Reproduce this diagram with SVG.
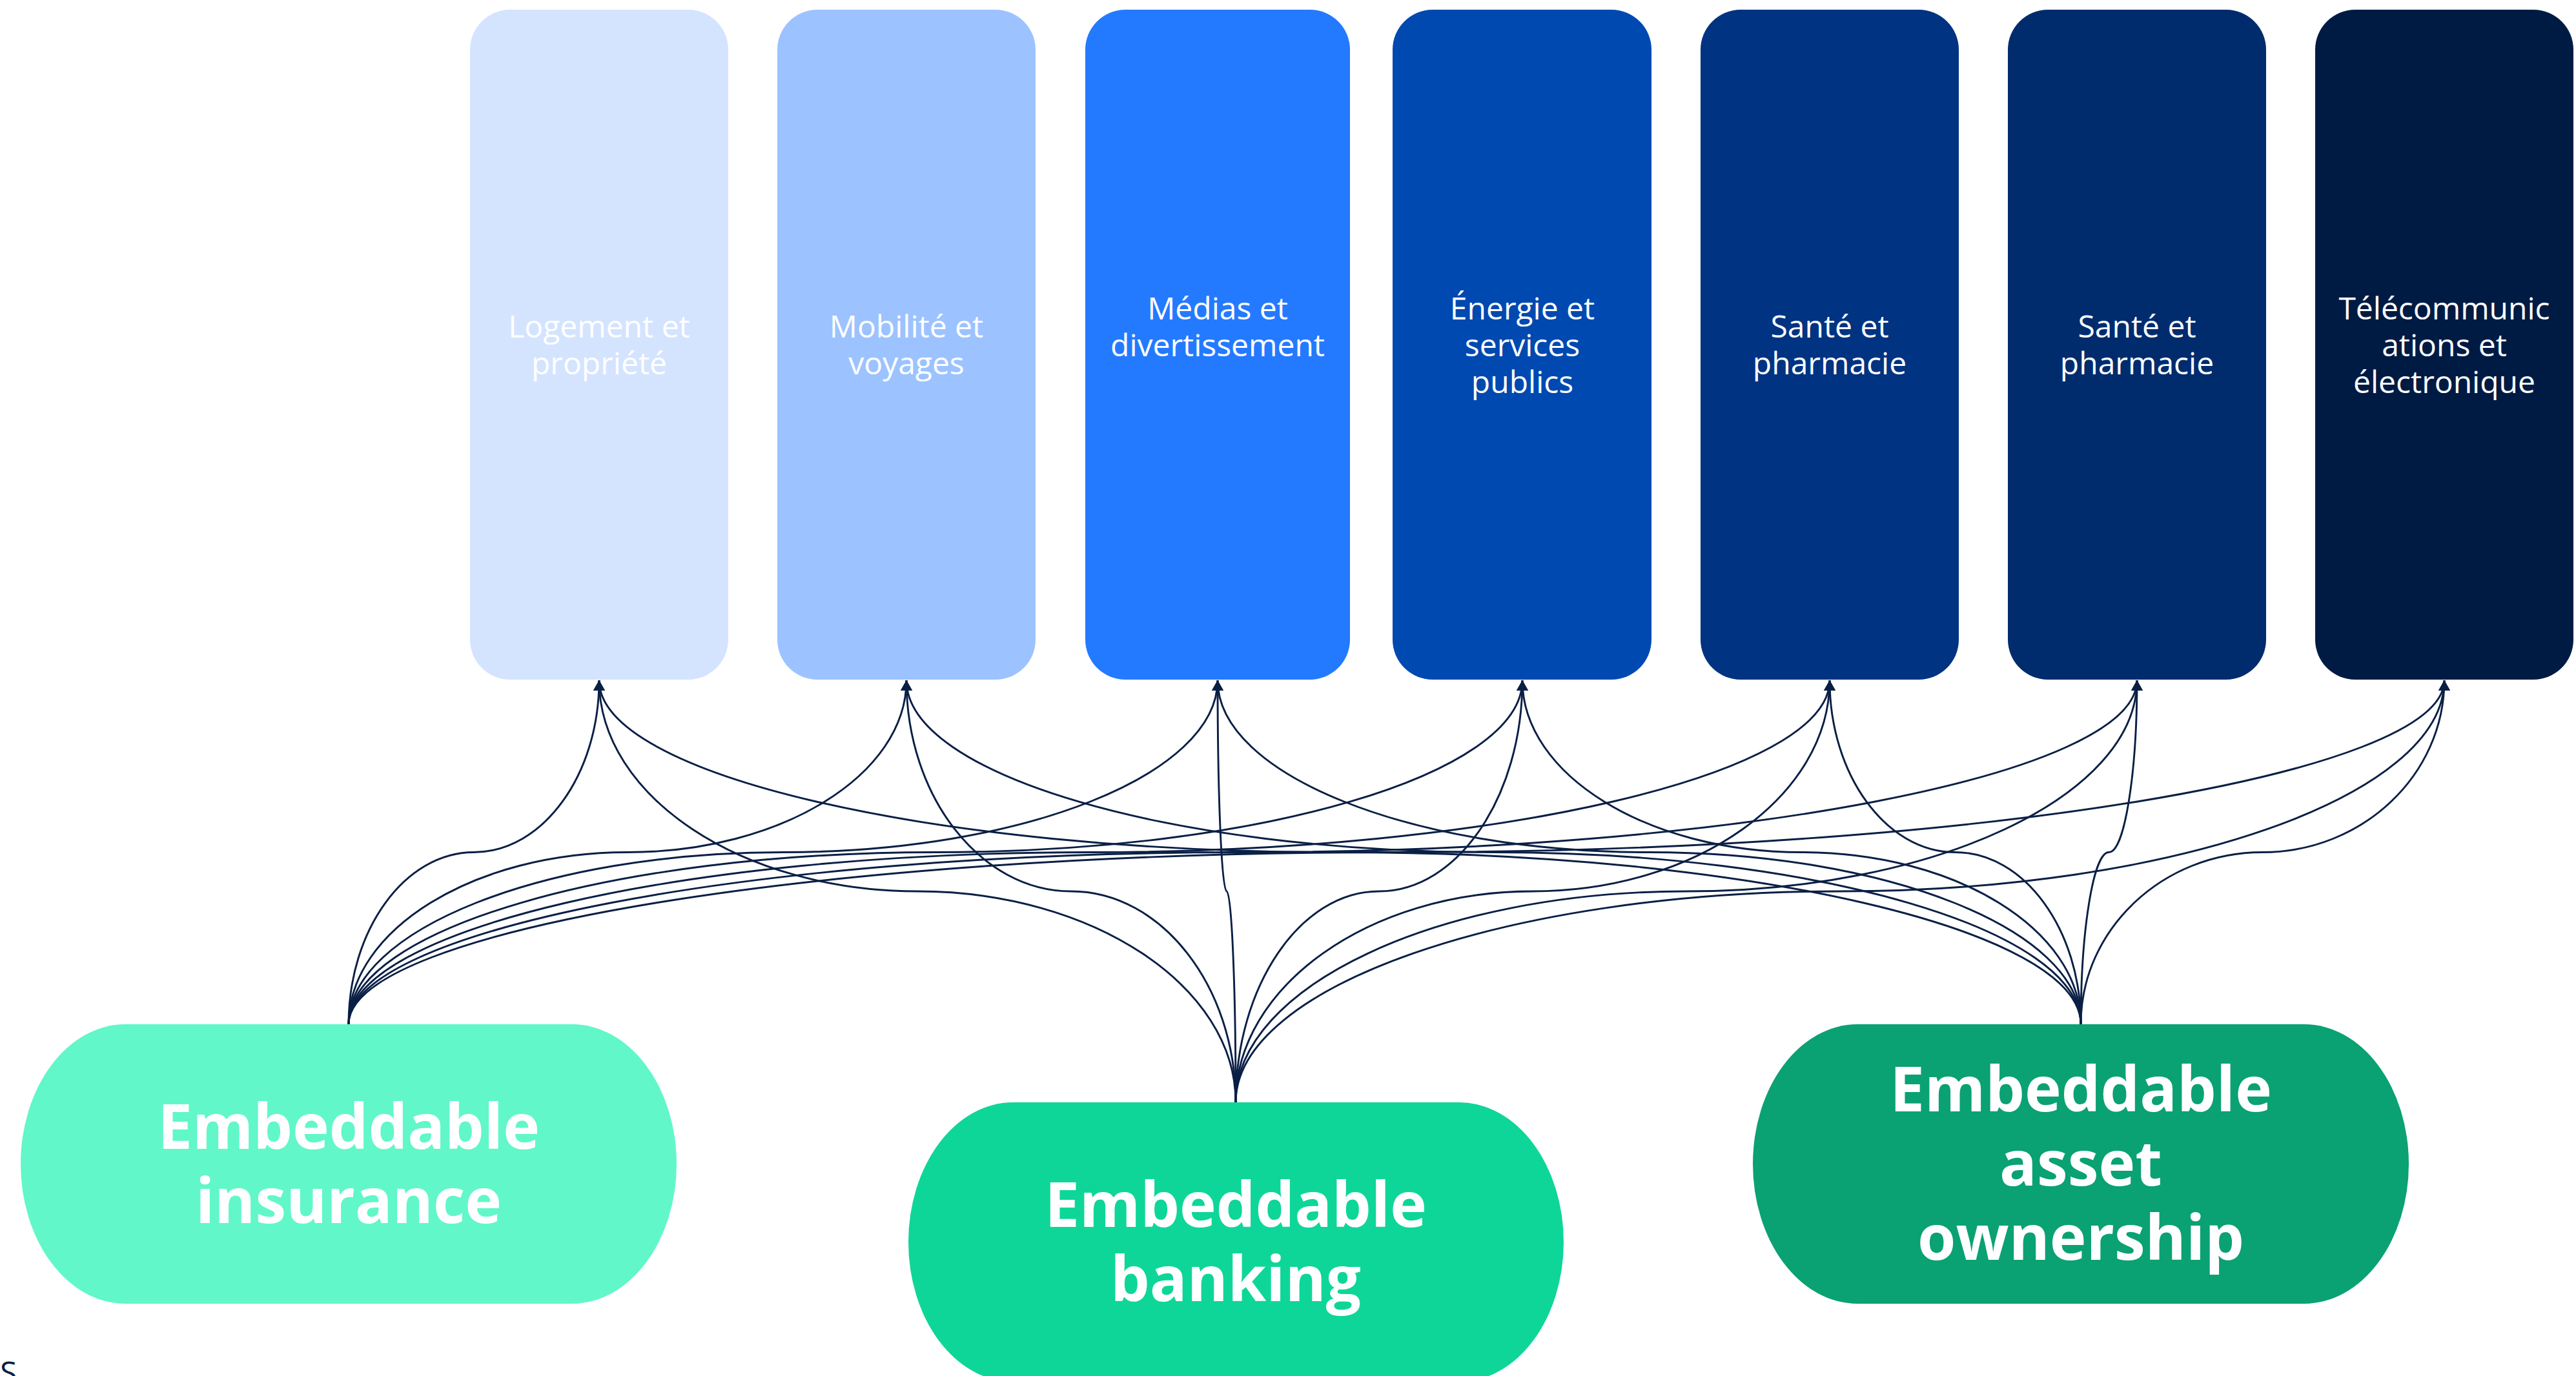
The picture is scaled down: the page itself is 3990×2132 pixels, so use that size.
<svg xmlns="http://www.w3.org/2000/svg" width="3990" height="2132" viewBox="0 0 3990 2132">
<style>
.sector{font-family:"Open Sans","Noto Sans","Liberation Sans",sans-serif;font-size:48px;fill:#ffffff;text-anchor:middle}
.prod{font-family:"Open Sans","Noto Sans","Liberation Sans",sans-serif;font-size:96px;font-weight:700;fill:#ffffff;text-anchor:middle}
.edge{fill:none;stroke:#0a1f45;stroke-width:2.9;marker-end:url(#arr)}
.foot{font-family:"Open Sans","Noto Sans","Liberation Sans",sans-serif;font-size:48px;fill:#0a1f45}
</style>
<defs>
<marker id="arr" viewBox="0 0 16 18" refX="16" refY="9" markerWidth="16" markerHeight="18" markerUnits="userSpaceOnUse" orient="auto">
<path d="M0,0L16,9L0,18z" fill="#0a1f45"/>
</marker>
</defs>
<rect width="3990" height="2132" fill="#ffffff"/>

<g id="sector-logement">
<rect x="728" y="15" width="400" height="1038" rx="62" ry="62" fill="#d4e4ff"/>
<text class="sector" x="928" y="523">Logement et<tspan x="928" dy="57">propriété</tspan></text>
</g>
<g id="sector-mobilite">
<rect x="1204" y="15" width="400" height="1038" rx="62" ry="62" fill="#9cc3ff"/>
<text class="sector" x="1404" y="523">Mobilité et<tspan x="1404" dy="57">voyages</tspan></text>
</g>
<g id="sector-medias">
<rect x="1681" y="15" width="410" height="1038" rx="62" ry="62" fill="#247aff"/>
<text class="sector" x="1886" y="495">Médias et<tspan x="1886" dy="57">divertissement</tspan></text>
</g>
<g id="sector-energie">
<rect x="2157" y="15" width="401" height="1038" rx="62" ry="62" fill="#0049b0"/>
<text class="sector" x="2358" y="495">Énergie et<tspan x="2358" dy="57">services</tspan><tspan x="2358" dy="57">publics</tspan></text>
</g>
<g id="sector-sante-1">
<rect x="2634" y="15" width="400" height="1038" rx="62" ry="62" fill="#003381"/>
<text class="sector" x="2834" y="523">Santé et<tspan x="2834" dy="57">pharmacie</tspan></text>
</g>
<g id="sector-sante-2">
<rect x="3110" y="15" width="400" height="1038" rx="62" ry="62" fill="#002c6e"/>
<text class="sector" x="3310" y="523">Santé et<tspan x="3310" dy="57">pharmacie</tspan></text>
</g>
<g id="sector-telecom">
<rect x="3586" y="15" width="400" height="1038" rx="62" ry="62" fill="#001b43"/>
<text class="sector" x="3786" y="495">Télécommunic<tspan x="3786" dy="57">ations et</tspan><tspan x="3786" dy="57">électronique</tspan></text>
</g>

<g id="product-insurance">
<rect x="32" y="1587" width="1016" height="433" rx="162" ry="216.5" fill="#61f7c9"/>
<text class="prod" x="540" y="1780">Embeddable<tspan x="540" dy="115">insurance</tspan></text>
</g>
<g id="product-banking">
<rect x="1407" y="1708" width="1015" height="433" rx="162" ry="216.5" fill="#0ed698"/>
<text class="prod" x="1914" y="1901">Embeddable<tspan x="1914" dy="115">banking</tspan></text>
</g>
<g id="product-asset">
<rect x="2715" y="1587" width="1016" height="433" rx="162" ry="216.5" fill="#0aa173"/>
<text class="prod" x="3223" y="1722">Embeddable<tspan x="3223" dy="115">asset</tspan><tspan x="3223" dy="115">ownership</tspan></text>
</g>

<g id="connectors">
<path class="edge" d="M540,1587C540,1440.4 627.3,1320.5 734,1320.5C840.7,1320.5 928,1200.6 928,1054"/>
<path class="edge" d="M540,1587C540,1440.4 734.4,1320.5 972,1320.5C1209.6,1320.5 1404,1200.6 1404,1054"/>
<path class="edge" d="M540,1587C540,1440.4 842.85,1320.5 1213,1320.5C1583.15,1320.5 1886,1200.6 1886,1054"/>
<path class="edge" d="M540,1587C540,1440.4 949.05,1320.5 1449,1320.5C1948.95,1320.5 2358,1200.6 2358,1054"/>
<path class="edge" d="M540,1587C540,1440.4 1056.15,1320.5 1687,1320.5C2317.85,1320.5 2834,1200.6 2834,1054"/>
<path class="edge" d="M540,1587C540,1440.4 1163.25,1320.5 1925,1320.5C2686.75,1320.5 3310,1200.6 3310,1054"/>
<path class="edge" d="M540,1587C540,1440.4 1270.35,1320.5 2163,1320.5C3055.65,1320.5 3786,1200.6 3786,1054"/>

<path class="edge" d="M1914,1708C1914,1528.2 1692.15,1381 1421,1381C1149.85,1381 928,1233.9 928,1054"/>
<path class="edge" d="M1914,1708C1914,1528.2 1799.25,1381 1659,1381C1518.75,1381 1404,1233.9 1404,1054"/>
<path class="edge" d="M1914,1708C1914,1528.2 1907.7,1381 1900,1381C1892.3,1381 1886,1233.9 1886,1054"/>
<path class="edge" d="M1914,1708C1914,1528.2 2013.9,1381 2136,1381C2258.1,1381 2358,1233.9 2358,1054"/>
<path class="edge" d="M1914,1708C1914,1528.2 2121,1381 2374,1381C2627,1381 2834,1233.9 2834,1054"/>
<path class="edge" d="M1914,1708C1914,1528.2 2228.1,1381 2612,1381C2995.9,1381 3310,1233.9 3310,1054"/>
<path class="edge" d="M1914,1708C1914,1528.2 2335.2,1381 2850,1381C3364.8,1381 3786,1233.9 3786,1054"/>

<path class="edge" d="M3223,1587C3223,1440.4 2706.6,1320.5 2075.5,1320.5C1444.4,1320.5 928,1200.6 928,1054"/>
<path class="edge" d="M3223,1587C3223,1440.4 2813.7,1320.5 2313.5,1320.5C1813.3,1320.5 1404,1200.6 1404,1054"/>
<path class="edge" d="M3223,1587C3223,1440.4 2922.2,1320.5 2554.5,1320.5C2186.8,1320.5 1886,1200.6 1886,1054"/>
<path class="edge" d="M3223,1587C3223,1440.4 3028.4,1320.5 2790.5,1320.5C2552.6,1320.5 2358,1200.6 2358,1054"/>
<path class="edge" d="M3223,1587C3223,1440.4 3135.5,1320.5 3028.5,1320.5C2921.5,1320.5 2834,1200.6 2834,1054"/>
<path class="edge" d="M3223,1587C3223,1440.4 3242.6,1320.5 3266.5,1320.5C3290.4,1320.5 3310,1200.6 3310,1054"/>
<path class="edge" d="M3223,1587C3223,1440.4 3349.7,1320.5 3504.5,1320.5C3659.3,1320.5 3786,1200.6 3786,1054"/>
</g>

<text class="foot" x="0" y="2144">S</text>
</svg>
